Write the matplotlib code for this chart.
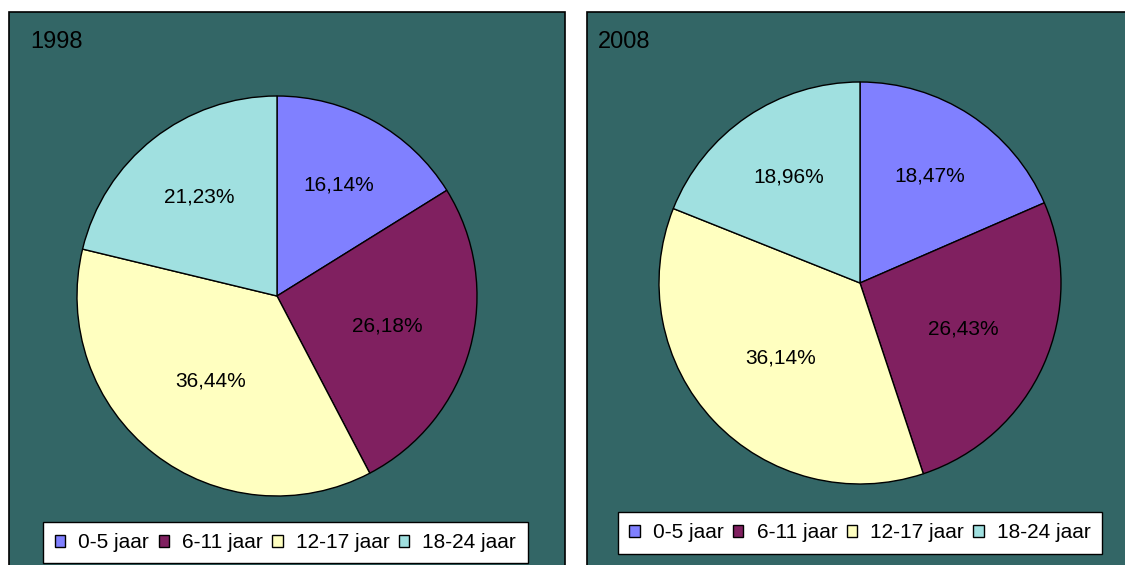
import numpy as np
import matplotlib.pyplot as plt
from matplotlib.patches import Rectangle, Patch

plt.rcParams['font.family'] = ['Liberation Sans', 'DejaVu Sans']

categories = ['0-5 jaar', '6-11 jaar', '12-17 jaar', '18-24 jaar']
years = ['1998', '2008']
shares_1998 = [16.14, 26.18, 36.44, 21.23]
shares_2008 = [18.47, 26.43, 36.14, 18.96]
colors = ['#8080FF', '#802060', '#FFFFC0', '#A0E0E0']
bg = '#336666'

W, H = 1125, 565
fig = plt.figure(figsize=(W / 100, H / 100), dpi=100)


def px_rect(x0, y0, x1, y1):
    # pixel box (top-left origin) -> figure fraction rect
    return [x0 / W, 1 - y1 / H, (x1 - x0) / W, (y1 - y0) / H]


panels = [
    dict(box=(9, 12, 565, 570), center=(277, 296), r=200,
         title_xy=(30, 42), legend_xy=(285.5, 542.5), year=years[0], vals=shares_1998),
    dict(box=(587, 12, 1130, 570), center=(860, 283), r=201,
         title_xy=(598, 42), legend_xy=(860, 533), year=years[1], vals=shares_2008),
]

for p in panels:
    x0, y0, x1, y1 = p['box']
    r = px_rect(x0, y0, x1, y1)
    fig.patches.append(Rectangle((r[0], r[1]), r[2], r[3], transform=fig.transFigure,
                                 facecolor=bg, edgecolor='black', linewidth=1.2, zorder=-5))
    fig.text(p['title_xy'][0] / W, 1 - p['title_xy'][1] / H, p['year'],
             fontsize=17, va='center', ha='left', color='black')

    cx, cy = p['center']
    rad = p['r']
    ax = fig.add_axes(px_rect(cx - rad, cy - rad, cx + rad, cy + rad))
    ax.set_facecolor('none')
    ax.set_zorder(2)
    labels = [f'{v:.2f}'.replace('.', ',') + '%' for v in p['vals']]
    ax.pie(p['vals'], colors=colors, startangle=90, counterclock=False,
           wedgeprops=dict(edgecolor='black', linewidth=1))
    total = sum(p['vals'])
    ang = 90.0
    for v, lab in zip(p['vals'], labels):
        mid = np.deg2rad(ang - v / total * 180)
        # labels sit a bit closer to the centre in the lower half, like Excel
        dist = 0.585 + 0.06 * np.sin(mid)
        ax.text(dist * np.cos(mid), dist * np.sin(mid), lab, ha='center', va='center',
                fontsize=15, color='black')
        ang -= v / total * 360
    ax.set_xlim(-1, 1)
    ax.set_ylim(-1, 1)
    ax.axis('off')

    handles = [Patch(facecolor=c, edgecolor='black', linewidth=1) for c in colors]
    lx, ly = p['legend_xy']
    leg = fig.legend(handles, categories, loc='center', ncol=4,
                     bbox_to_anchor=(lx / W, 1 - ly / H), fontsize=15,
                     handlelength=0.5, handleheight=0.5, handletextpad=0.63,
                     columnspacing=0.45, borderpad=0.55, borderaxespad=0,
                     fancybox=False, framealpha=1, edgecolor='black')
    leg.get_frame().set_linewidth(1)
    leg.set_zorder(3)

fig.savefig('out.png', dpi=100)
